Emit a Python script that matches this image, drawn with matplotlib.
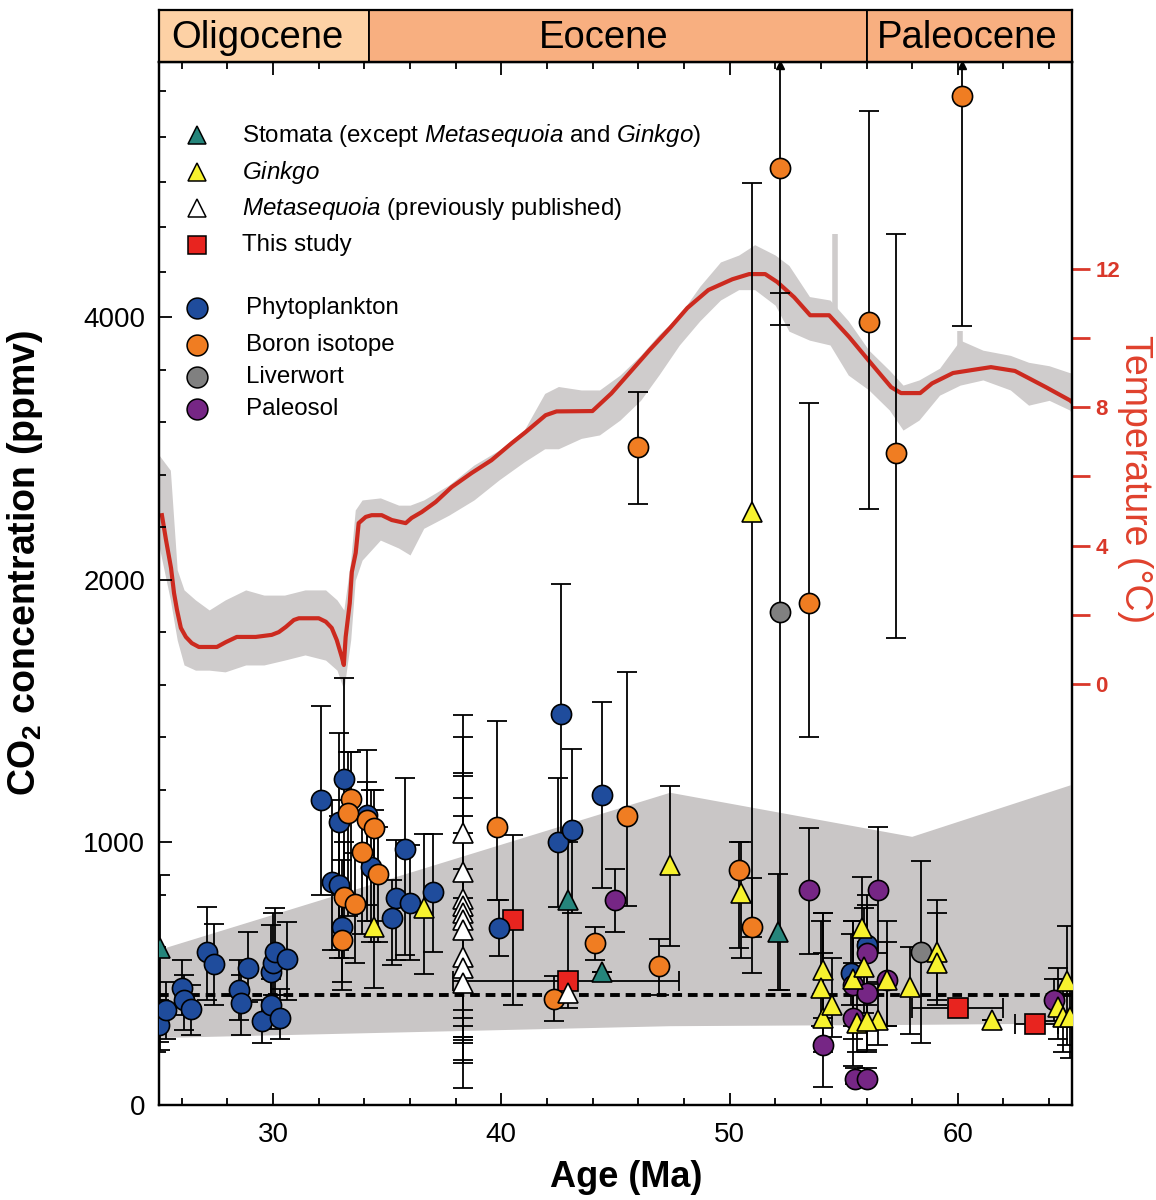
import matplotlib
matplotlib.use("Agg")
import matplotlib.pyplot as plt
import numpy as np
from matplotlib.patches import Rectangle

plt.rcParams['font.family'] = ['Liberation Sans', 'DejaVu Sans']
plt.rcParams['mathtext.fontset'] = 'custom'
plt.rcParams['mathtext.rm'] = 'Liberation Sans'
plt.rcParams['mathtext.it'] = 'Liberation Sans:italic'
plt.rcParams['mathtext.bf'] = 'Liberation Sans:bold'

# ---- CO2 proxies: age (Ma), value (ppmv), lower / upper error (ppmv)
phyto_age = [25.0, 25.3, 26.0, 26.1, 26.4, 27.1, 27.4, 28.5, 28.6, 28.9, 29.5, 29.9, 30.0, 30.1, 29.9, 30.3, 30.6,
             32.1, 33.1, 32.9, 32.6, 32.9, 33.0, 34.1, 34.3, 35.4, 35.8, 36.0, 35.2, 37.0,
             39.9, 42.6, 42.5, 43.1, 44.4, 56.0, 55.3]
phyto_co2 = [305, 360, 446, 400, 366, 583, 537, 438, 389, 522, 320, 507, 541, 583, 381, 331, 556,
             1162, 1242, 1078, 850, 838, 678, 1105, 907, 789, 975, 770, 712, 811,
             674, 1490, 1002, 1048, 1181, 610, 503]
phyto_lo = [240, 250, 343, 286, 267, 400, 381, 324, 267, 392, 236, 400, 420, 419, 290, 250, 400,
            800, 781, 590, 590, 560, 438, 700, 620, 552, 571, 552, 533, 583,
            568, 1000, 754, 731, 827, 440, 380]
phyto_hi = [400, 470, 552, 495, 457, 754, 690, 552, 495, 659, 400, 686, 731, 750, 480, 440, 697,
            1520, 1627, 1417, 1162, 1100, 933, 1350, 1200, 1010, 1246, 990, 857, 1032,
            781, 1985, 1246, 1356, 1535, 760, 650]

boron_age = [33.4, 33.3, 34.1, 34.4, 33.9, 34.6, 33.1, 33.6, 33.0, 39.8, 42.3, 44.1, 45.5, 46.0, 46.9,
             50.4, 51.0, 52.2, 53.5, 56.1, 57.3, 60.2]
boron_co2 = [1166, 1112, 1086, 1055, 964, 880, 792, 766, 629, 1059, 404, 617, 1101, 3013, 530,
             895, 678, 5320, 1910, 3966, 2968, 5958]
boron_lo = [790, 720, 760, 700, 650, 620, 560, 540, 470, 781, 320, 552, 758, 2579, 420,
            598, 503, 3940, 1402, 2541, 1780, 3934]
boron_hi = [1345, 1345, 1230, 1200, 1120, 1060, 1000, 960, 800, 1463, 491, 678, 1650, 3433, 632,
            1002, 865, 6260, 3349, 5825, 4735, 6260]
boron_offscale = [52.2, 60.2]

ginkgo_age = [34.4, 36.6, 47.4, 50.5, 51.0, 54.1, 54.0, 54.1, 54.5, 55.4, 55.8, 55.9, 56.5, 55.6, 56.0,
              56.9, 57.9, 59.1, 59.1, 61.5, 64.8, 64.4, 64.6, 64.9]
ginkgo_co2 = [678, 751, 914, 808, 2518, 514, 446, 331, 381, 480, 674, 526, 324, 312, 320,
              476, 450, 583, 541, 324, 472, 373, 335, 335]
ginkgo_lo = [446, 499, 605, 560, 640, 330, 300, 200, 260, 300, 500, 350, 230, 200, 210,
             300, 270, 400, 380, 324, 230, 250, 200, 180]
ginkgo_hi = [1124, 1032, 1215, 1000, 5190, 731, 700, 580, 560, 700, 870, 750, 470, 450, 460,
             620, 600, 780, 730, 324, 680, 520, 480, 460]

meta_age = [38.3, 38.3, 38.3, 38.3, 38.3, 38.3, 38.3, 38.3, 38.3, 38.3, 42.9]
meta_co2 = [1036, 888, 785, 758, 731, 705, 667, 564, 522, 465, 427]
meta_lo = [65, 171, 160, 259, 248, 236, 362, 259, 330, 300, 370]
meta_hi = [1486, 1402, 1265, 1254, 1170, 1100, 1036, 900, 790, 720, 460]

stomata_age = [25.05, 42.9, 44.4, 52.1]
stomata_co2 = [598, 781, 507, 659]
stomata_lo = [210, 460, 507, 438]
stomata_hi = [877, 1000, 507, 880]

paleosol_age = [45.0, 53.5, 56.5, 54.1, 55.5, 56.0, 56.0, 55.4, 56.0, 55.4, 56.9, 64.2]
paleosol_co2 = [781, 819, 819, 229, 99, 99, 579, 457, 427, 331, 476, 400]
paleosol_lo = [659, 575, 579, 69, 80, 80, 380, 250, 200, 150, 300, 320]
paleosol_hi = [899, 1055, 1059, 731, 140, 140, 800, 700, 620, 540, 700, 480]

liverwort_age = [52.2, 58.4]
liverwort_co2 = [1878, 583]
liverwort_lo = [438, 236]
liverwort_hi = [4213, 930]

study_age = [40.5, 42.9, 60.0, 63.4]
study_co2 = [705, 472, 370, 308]
study_lo = [381, 440, 370, 308]
study_hi = [1029, 500, 370, 308]
study_age_lo = [40.5, 37.9, 58.0, 62.5]
study_age_hi = [40.5, 47.8, 62.0, 64.4]

# shaded CO2 envelope and modern level
band_top_age = [25.0, 47.4, 58.0, 65.0]
band_top_co2 = [590, 1189, 1021, 1219]
band_bot_age = [25.0, 47.4, 58.0, 65.0]
band_bot_co2 = [255, 300, 305, 310]
modern_co2 = 420

# ---- benthic temperature stack (deg C)
temp_age = [25.13, 25.31, 25.53, 25.66, 25.79, 25.96, 26.18, 26.44, 26.75, 27.54, 27.93, 28.41, 29.24, 29.94,
            30.25, 30.56, 30.91, 31.13, 32.0, 32.31, 32.57, 32.79, 33.01, 33.10, 33.18, 33.36, 33.45, 33.62,
            33.75, 34.06, 34.32, 34.76, 35.2, 35.81, 36.07, 36.51, 37.12, 37.82, 38.7, 39.57, 40.45, 41.06,
            41.94, 42.42, 43.99, 44.82, 45.65, 46.49, 47.4, 48.15, 49.07, 50.12, 50.86, 51.56, 52.09, 52.83,
            53.53, 54.36, 55.24, 56.16, 57.08, 57.51, 58.35, 58.87, 59.79, 60.66, 61.45, 62.5, 63.11, 63.86,
            64.91, 65.0]
temp_val = [4.88, 4.16, 3.35, 2.63, 2.14, 1.62, 1.36, 1.18, 1.07, 1.07, 1.21, 1.36, 1.36, 1.42,
            1.5, 1.65, 1.85, 1.9, 1.9, 1.8, 1.62, 1.27, 0.78, 0.55, 1.36, 2.34, 3.24, 3.79,
            4.65, 4.83, 4.88, 4.88, 4.74, 4.65, 4.8, 4.97, 5.26, 5.69, 6.1, 6.47, 6.96, 7.28,
            7.77, 7.88, 7.89, 8.4, 9.02, 9.65, 10.3, 10.87, 11.39, 11.7, 11.85, 11.85, 11.62, 11.18,
            10.66, 10.66, 10.03, 9.3, 8.58, 8.41, 8.41, 8.69, 8.99, 9.08, 9.16, 9.05, 8.84, 8.58,
            8.2, 8.15]

raw_age = [25.0, 25.5, 25.8, 26.1, 26.6, 27.2, 27.9, 28.8, 29.6, 30.5, 31.4, 32.3, 32.8, 33.1, 33.4, 33.6,
           33.9, 34.7, 35.5, 36.0, 36.6, 37.7, 38.8, 39.9, 41.0, 41.9, 42.5, 43.5, 44.3, 45.2, 46.1, 46.9,
           47.8, 48.7, 49.6, 50.4, 51.1, 52.0, 52.6, 53.5, 54.4, 55.2, 56.1, 57.0, 57.6, 58.3, 59.2, 60.1,
           61.1, 62.3, 63.1, 64.0, 64.9, 65.0]
raw_lo = [4.0, 2.43, 1.27, 0.55, 0.4, 0.4, 0.35, 0.55, 0.55, 0.69, 0.84, 0.69, 0.4, -0.17, 1.27, 3.0,
          3.58, 4.16, 3.93, 3.73, 4.5, 4.88, 5.32, 5.9, 6.42, 6.8, 6.8, 7.1, 7.2, 7.63, 8.2, 8.93,
          9.8, 10.5, 11.1, 11.4, 11.4, 10.95, 10.2, 9.94, 9.8, 8.93, 8.5, 7.92, 7.34, 7.63, 8.35, 8.64,
          8.79, 8.5, 8.06, 8.2, 7.92, 7.8]
raw_hi = [6.62, 6.18, 3.3, 2.72, 2.43, 2.14, 2.43, 2.72, 2.57, 2.57, 2.72, 2.72, 2.43, 2.14, 3.58, 5.03,
          5.32, 5.38, 5.17, 5.17, 5.32, 5.75, 6.33, 6.76, 7.34, 8.4, 8.6, 8.5, 8.5, 8.93, 9.5, 10.1,
          10.66, 11.5, 12.2, 12.4, 12.7, 12.4, 12.1, 11.2, 11.1, 10.5, 9.65, 9.07, 8.64, 8.79, 9.13, 9.94,
          9.65, 9.5, 9.3, 9.2, 9.0, 9.0]
spike_age = [54.6, 60.1]
spike_lo = [10.5, 9.0]
spike_hi = [13.0, 10.2]

epochs = ["Oligocene", "Eocene", "Paleocene"]
epoch_start = [25.0, 34.2, 56.0]
epoch_end = [34.2, 56.0, 65.0]
epoch_color = ["#FDD1A5", "#F8AF80", "#F8AF80"]


# left axis: linear to 2000, half scale to 4000, compressed above that
def fwd(y):
    y = np.asarray(y, dtype=float)
    return np.where(y <= 2000, y, np.where(y <= 4000, 2000 + (y - 2000) * 0.5, 3000 + (y - 4000) * 0.43))


def inv(u):
    u = np.asarray(u, dtype=float)
    return np.where(u <= 2000, u, np.where(u <= 3000, 2000 + (u - 2000) * 2, 4000 + (u - 3000) / 0.43))


fig = plt.figure(figsize=(11.56, 12), dpi=100)
L, B, W, H = 0.1375, 0.0792, 0.7898, 0.8691
ax = fig.add_axes([L, B, W, H])
ax2 = ax.twinx()
ax.set_zorder(ax2.get_zorder() + 1)
ax.patch.set_visible(False)

# temperature record
ax2.fill_between(raw_age, raw_lo, raw_hi, color="#CFCCCC", lw=0)
ax2.vlines(spike_age, spike_lo, spike_hi, color="#CFCCCC", lw=4)
ax2.plot(temp_age, temp_val, color="#CC2A1F", lw=3)
ax2.set_ylim(-12.17, 17.98)
ax2.set_yticks([0, 4, 8, 12])
ax2.set_yticks([2, 6, 10], minor=True)
ax2.tick_params(axis="y", which="both", direction="out", length=13, width=2, color="#D9382A",
                labelcolor="#D9382A", labelsize=16, pad=4)
for t in ax2.get_yticklabels():
    t.set_fontweight("bold")
ax2.text(1.069, 0.60, "Temperature (°C)", transform=ax2.transAxes, rotation=270,
         ha="center", va="center", fontsize=27, color="#E0412D")

# CO2 panel
ax.set_yscale("function", functions=(fwd, inv))
ax.set_xlim(25, 65)
ax.set_ylim(0, 6260)

bx = list(band_top_age) + list(band_bot_age)[::-1]
by = list(band_top_co2) + list(band_bot_co2)[::-1]
ax.fill(bx, by, color="#C9C6C6", lw=0, zorder=1)
ax.axhline(modern_co2, color="black", lw=2.8, ls=(0, (2.5, 1.5)), zorder=2)

eb = dict(fmt="none", ecolor="black", elinewidth=1.3, capsize=7, capthick=1.3, zorder=3)


def draw(age, co2, lo, hi, **mk):
    age = np.array(age)
    co2 = np.array(co2)
    err = [co2 - np.array(lo), np.array(hi) - co2]
    ax.errorbar(age, co2, yerr=err, **eb)
    ax.plot(age, co2, ls="none", markeredgecolor="black", markeredgewidth=1.2, zorder=4, **mk)


draw(study_age, study_co2, study_lo, study_hi, marker="s", ms=15, color="#E8241F")
ax.errorbar(study_age, study_co2,
            xerr=[np.array(study_age) - np.array(study_age_lo), np.array(study_age_hi) - np.array(study_age)],
            **eb)
draw(phyto_age, phyto_co2, phyto_lo, phyto_hi, marker="o", ms=14.5, color="#1F4C9C")
draw(boron_age, boron_co2, boron_lo, boron_hi, marker="o", ms=14.5, color="#F07D22")
draw(paleosol_age, paleosol_co2, paleosol_lo, paleosol_hi, marker="o", ms=14.5, color="#762685")
draw(liverwort_age, liverwort_co2, liverwort_lo, liverwort_hi, marker="o", ms=14.5, color="#808080")
draw(meta_age, meta_co2, meta_lo, meta_hi, marker="^", ms=14, color="white")
draw(stomata_age, stomata_co2, stomata_lo, stomata_hi, marker="^", ms=14, color="#25857B")
draw(ginkgo_age, ginkgo_co2, ginkgo_lo, ginkgo_hi, marker="^", ms=14, color="#F7F22E")
ax.plot(boron_offscale, [6230] * len(boron_offscale), ls="none", marker="^", ms=6, color="black",
        clip_on=False, zorder=5)

# ticks
ax.set_xticks([30, 40, 50, 60])
ax.set_xticks(np.arange(26, 65, 2), minor=True)
ax.set_yticks([0, 1000, 2000, 4000])
ax.set_yticks([200, 400, 600, 800, 1200, 1400, 1600, 1800, 2400, 2800, 3200, 3600,
               4400, 4800, 5200, 5600, 6000], minor=True)
ax.set_yticklabels(["0", "1000", "2000", "4000"])
ax.tick_params(axis="x", which="both", direction="in", top=True, bottom=True, labelsize=20, width=1.3, pad=12)
ax.tick_params(axis="x", which="major", length=9)
ax.tick_params(axis="x", which="minor", length=5)
ax.tick_params(axis="y", which="both", direction="in", left=True, right=False, labelsize=20, width=1.3, pad=10)
ax.tick_params(axis="y", which="major", length=9)
ax.tick_params(axis="y", which="minor", length=5)
for a in (ax, ax2):
    for s in a.spines.values():
        s.set_linewidth(1.6)

ax.set_xlabel("Age (Ma)", fontsize=26, fontweight="bold")
ax.xaxis.set_label_coords(0.512, -0.053)
ax.set_ylabel(r"CO$_\mathbf{2}$ concentration (ppmv)", fontsize=27, fontweight="bold")
ax.yaxis.set_label_coords(-0.125, 0.52)

# legend
lx, tx = 0.0416, 0.0909
rows = [
    (0.930, dict(marker="^", ms=13, color="#25857B"), r"Stomata (except $\mathit{Metasequoia}$ and $\mathit{Ginkgo}$)"),
    (0.8945, dict(marker="^", ms=13, color="#F7F22E"), r"$\mathit{Ginkgo}$"),
    (0.860, dict(marker="^", ms=13, color="white"), r"$\mathit{Metasequoia}$ (previously published)"),
    (0.8245, dict(marker="s", ms=13, color="#E8241F"), "This study"),
    (0.764, dict(marker="o", ms=15, color="#1F4C9C"), "Phytoplankton"),
    (0.7287, dict(marker="o", ms=15, color="#F07D22"), "Boron isotope"),
    (0.698, dict(marker="o", ms=15, color="#808080"), "Liverwort"),
    (0.667, dict(marker="o", ms=15, color="#762685"), "Paleosol"),
]
for y, mk, label in rows:
    ax.plot([lx], [y], transform=ax.transAxes, ls="none", markeredgecolor="black",
            markeredgewidth=1.1, zorder=6, **mk)
    ax.text(tx if mk["marker"] != "o" else 0.0953, y, label, transform=ax.transAxes,
            fontsize=17.4, va="center", ha="left", zorder=6)

# epoch bar
axe = fig.add_axes([L, 0.9483, W, 0.0433])
axe.set_xlim(25, 65)
axe.set_ylim(0, 1)
label_x = [29.3, 44.5, 60.4]
for name, s, e, c, lxp in zip(epochs, epoch_start, epoch_end, epoch_color, label_x):
    axe.add_patch(Rectangle((s, 0), e - s, 1, facecolor=c, edgecolor="black", lw=1.3))
    axe.text(lxp, 0.47, name, ha="center", va="center", fontsize=27.5)
axe.set_xticks([])
axe.set_yticks([])
for s in axe.spines.values():
    s.set_linewidth(1.6)

fig.savefig("out.png", dpi=100, facecolor="white")
